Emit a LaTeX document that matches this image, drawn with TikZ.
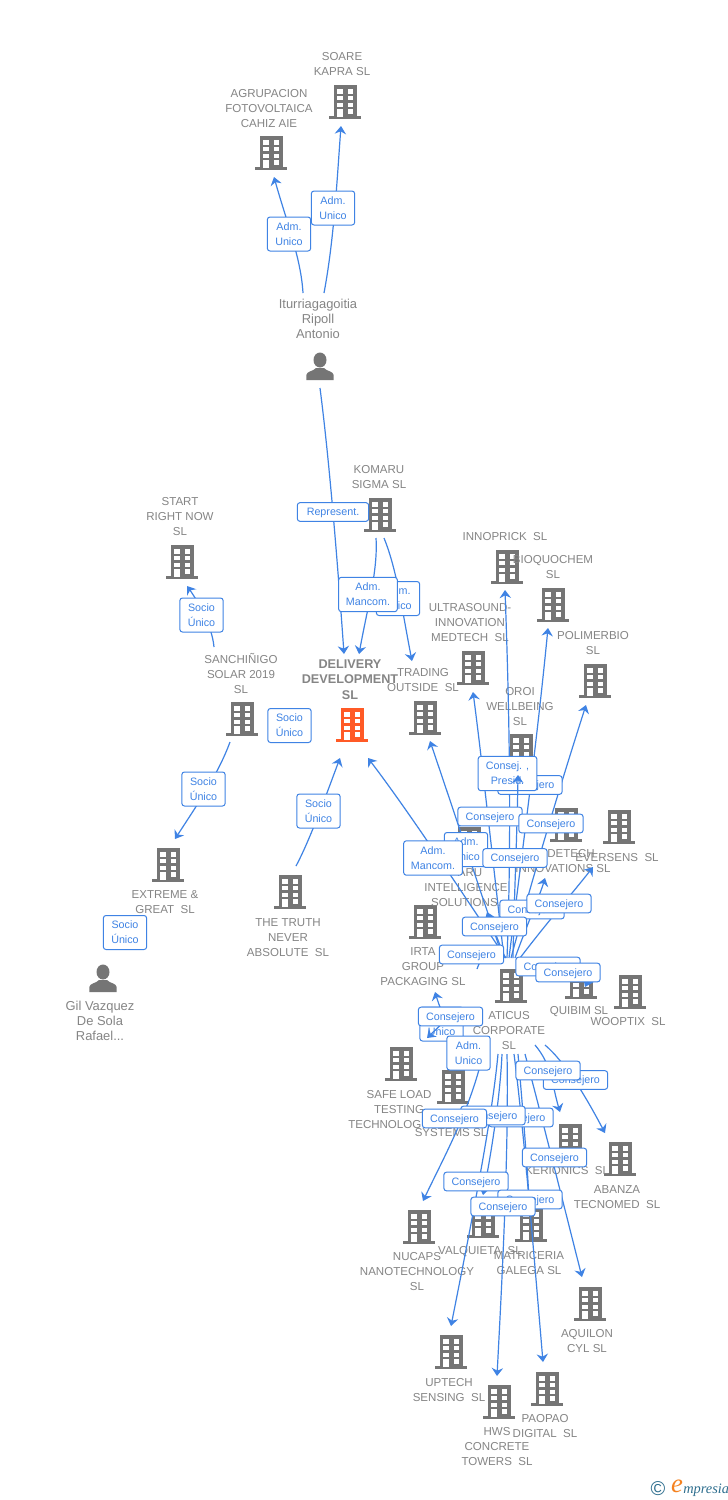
\documentclass[tikz,border=0pt]{standalone}
\usepackage{fontspec}
\setmainfont{Liberation Sans}
\newfontfamily\logoserif{Liberation Serif}
\usetikzlibrary{arrows.meta}
\definecolor{bgray}{HTML}{757575}
\definecolor{borange}{HTML}{FF5A26}
\definecolor{tgray}{HTML}{858585}
\definecolor{cblue}{HTML}{3F83E4}
\definecolor{logoblue}{HTML}{2F6F8F}
\definecolor{logoorange}{HTML}{F58220}
\newcommand\bldgicon[1]{%
  \begin{scope}[shift={(path picture bounding box.center)},x=0.75pt,y=-0.75pt]
    \fill[#1] (-11.5,-17) rectangle (11.5,14.5);
    \fill[#1] (-16,14.2) rectangle (16,17);
    \fill[white] (-7.7,-12.9) rectangle (-2.3,-8.5);
    \fill[white] (2.5,-12.9) rectangle (7.9,-8.5);
    \fill[white] (-7.7,-6.2) rectangle (-2.3,-1.8);
    \fill[white] (2.5,-6.2) rectangle (7.9,-1.8);
    \fill[white] (-7.7,0.5) rectangle (-2.3,4.9);
    \fill[white] (2.5,0.5) rectangle (7.9,4.9);
    \fill[white] (-7.7,7.1) rectangle (-2.3,14.5);
    \fill[white] (2.5,7.1) rectangle (7.9,11.5);
  \end{scope}}
\newcommand\persicon{%
  \begin{scope}[shift={(path picture bounding box.center)},x=0.75pt,y=-0.75pt]
    \fill[bgray] (0,-6) ellipse (6.5 and 7.5);
    \fill[bgray] (-13.7,14) -- (-13.7,9) .. controls (-13,5) and (-7,5.5) .. (-4,2) -- (4,2)
      .. controls (7,5.5) and (13,5) .. (13.7,9) -- (13.7,14) -- cycle;
  \end{scope}}
\tikzset{
  bldg/.style={rectangle,inner sep=0pt,minimum width=24pt,minimum height=25.5pt,path picture={\bldgicon{#1}}},
  bldg/.default=bgray,
  persn/.style={rectangle,inner sep=0pt,minimum width=21pt,minimum height=21pt,path picture={\persicon}},
  txt/.style={inner sep=0pt,align=center,text=tgray,yshift=-0.7pt,font=\fontsize{8.65}{11.25}\selectfont},
  perstxt/.style={txt,font=\fontsize{9.7}{11.25}\selectfont},
  boldtxt/.style={inner sep=0pt,align=center,text=tgray,yshift=-0.7pt,font=\fontsize{9.5}{11.5}\selectfont\bfseries},
  labbase/.style={draw=cblue,line width=0.75pt,fill=white,rounded corners=2pt,inner sep=0pt,align=center,text=cblue,font=\fontsize{8.05}{11.25}\selectfont},
  labone/.style={labbase,minimum width=48.2pt,minimum height=14pt,text height=7pt,text depth=1.7pt},
  labtwo/.style={labbase,minimum width=32.5pt,minimum height=25.5pt},
  labthree/.style={labbase,minimum width=44pt,minimum height=25.8pt},
  conn/.style={draw=cblue,line width=0.9pt,-{Stealth[length=6pt,width=8.5pt,inset=2pt]}},
  connplain/.style={draw=cblue,line width=0.9pt}
}
\begin{document}
\begin{tikzpicture}[x=0.75pt,y=-0.75pt]
\fill[white] (0,0) rectangle (728,1500);
\useasboundingbox (0,0) rectangle (728,1500);
% buildings
\node[bldg] (soare) at (345,102) {};
\node[bldg] (agrup) at (271,153) {};
\node[bldg] (komaru) at (380,515) {};
\node[bldg] (start) at (182,562) {};
\node[bldg=borange] (delivery) at (352,725) {};
\node[bldg] (trading) at (425,718) {};
\node[bldg] (sanch) at (242,719) {};
\node[bldg] (extreme) at (168,865) {};
\node[bldg] (truth) at (290,892) {};
\node[bldg] (innoprick) at (507,567) {};
\node[bldg] (bioq) at (553,605) {};
\node[bldg] (ultra) at (473,668) {};
\node[bldg] (polimer) at (595,681) {};
\node[bldg] (oroi) at (521,751) {};
\node[bldg] (bdetech) at (566,825) {};
\node[bldg] (eversens) at (619,827) {};
\node[bldg] (karu) at (469,844) {};
\node[bldg] (irta) at (425,922) {};
\node[bldg] (aticus) at (511,986) {};
\node[bldg] (quibim) at (581,982) {};
\node[bldg] (wooptix) at (630,992) {};
\node[bldg] (safe) at (401,1064) {};
\node[bldg] (systems) at (453,1087) {};
\node[bldg] (kerionics) at (570,1141) {};
\node[bldg] (abanza) at (620,1159) {};
\node[bldg] (nucaps) at (419,1227) {};
\node[bldg] (valquieta) at (483,1221) {};
\node[bldg] (matriceria) at (531,1225) {};
\node[bldg] (aquilon) at (590,1304) {};
\node[bldg] (uptech) at (451,1352) {};
\node[bldg] (hws) at (499,1402) {};
\node[bldg] (paopao) at (547,1389) {};
\node[persn] (iturr) at (320,366) {};
\node[persn] (gil) at (103,978) {};
% texts
\node[txt] (tsoare) at (342,63.5) {SOARE\\KAPRA SL};
\node[txt] (tagrup) at (269,108) {AGRUPACION\\FOTOVOLTAICA\\CAHIZ AIE};
\node[perstxt] (titurr) at (318,318) {Iturriagagoitia\\Ripoll\\Antonio};
\node[txt] (tkomaru) at (379,476.5) {KOMARU\\SIGMA SL};
\node[txt] (tstart) at (180,516) {START\\RIGHT NOW\\SL};
\node[txt] (tsanch) at (241,673) {SANCHIÑIGO\\SOLAR 2019\\SL};
\node[boldtxt] (tdelivery) at (350,678.5) {DELIVERY\\DEVELOPMENT\\SL};
\node[txt] (ttrading) at (423,679.5) {TRADING\\OUTSIDE~~SL};
\node[txt] (tultra) at (470,622) {ULTRASOUND-\\INNOVATION\\MEDTECH~~SL};
\node[txt] (tinno) at (505,536) {INNOPRICK~~SL};
\node[txt] (tbioq) at (553,566.5) {BIOQUOCHEM\\SL};
\node[txt] (tpolimer) at (593,642.5) {POLIMERBIO\\SL};
\node[txt] (toroi) at (520,706) {OROI\\WELLBEING\\SL};
\node[txt] (tdetech) at (571,853) {DETECH};
\node[txt] (tinnov) at (563,868) {INNOVATIONS SL};
\node[txt] (teversens) at (617,857) {EVERSENS~~SL};
\node[txt] (taru) at (470,872) {ARU};
\node[txt] (tintel) at (466,894.5) {INTELLIGENCE\\SOLUTIONS.};
\node[txt] (tirta) at (423,966) {IRTA\\GROUP\\PACKAGING SL};
\node[txt] (taticus) at (509,1030) {ATICUS\\CORPORATE\\SL};
\node[txt] (tquibim) at (579,1011) {QUIBIM SL};
\node[txt] (twooptix) at (628,1021) {WOOPTIX~~SL};
\node[txt] (tsafe) at (399,1101.5) {SAFE LOAD\\TESTING};
\node[txt,anchor=west] (ttechno) at (348,1124) {TECHNOLOG};
\node[txt] (tsystems) at (451,1132) {SYSTEMS SL};
\node[txt] (tkerionics) at (567,1170) {KERIONICS~~SL};
\node[txt] (tabanza) at (617,1196.5) {ABANZA\\TECNOMED~~SL};
\node[txt] (tnucaps) at (417,1271) {NUCAPS\\NANOTECHNOLOGY\\SL};
\node[txt] (tvalq) at (480,1251) {VALQUIETA~~SL};
\node[txt] (tmatri) at (529,1262.5) {MATRICERIA\\GALEGA SL};
\node[txt] (taquilon) at (587,1340.5) {AQUILON\\CYL SL};
\node[txt] (tuptech) at (449,1389.5) {UPTECH\\SENSING~~SL};
\node[txt] (thws) at (497,1446) {HWS\\CONCRETE\\TOWERS~~SL};
\node[txt] (tpaopao) at (545,1425.5) {PAOPAO\\DIGITAL~~SL};
\node[txt] (ttruth) at (288,937) {THE TRUTH\\NEVER\\ABSOLUTE~~SL};
\node[txt] (textreme) at (165,901.5) {EXTREME \&\\GREAT~~SL};
\node[perstxt] (tgil) at (100,1020) {Gil Vazquez\\De Sola\\Rafael...};
% connectors
\draw[conn] ([shift={(-17,-73)}]iturr.center) .. controls (301,258) and (286,220) .. ([shift={(3,24)}]agrup.center);
\draw[conn] ([shift={(4,-73)}]iturr.center) .. controls (334,240) and (337,180) .. ([shift={(-4,24)}]soare.center);
\draw[conn] ([shift={(0,22)}]iturr.center) .. controls (328,450) and (336,540) .. ([shift={(-8,-71)}]delivery.center);
\draw[conn] ([shift={(-4,23)}]komaru.center) .. controls (378,570) and (368,605) .. ([shift={(7,-71)}]delivery.center);
\draw[conn] ([shift={(4,23)}]komaru.center) .. controls (397,570) and (402,610) .. ([shift={(-13,-57)}]trading.center);
\draw[conn] ([shift={(-28,-72)}]sanch.center) .. controls (212,625) and (197,600) .. ([shift={(5,24)}]start.center);
\draw[conn] ([shift={(-12,23)}]sanch.center) .. controls (218,775) and (195,808) .. ([shift={(7,-26)}]extreme.center);
\draw[conn] ([shift={(6,-26)}]truth.center) .. controls (310,840) and (328,790) .. ([shift={(-12,33)}]delivery.center);
\draw[conn] ([shift={(-5,-28)}]aticus.center) .. controls (470,905) and (415,820) .. ([shift={(16,33)}]delivery.center);
\draw[conn] ([shift={(-8,-28)}]aticus.center) .. controls (480,890) and (450,800) .. ([shift={(5,23)}]trading.center);
\draw[conn] ([shift={(-7,-28)}]aticus.center) .. controls (495,880) and (482,760) .. ([shift={(0,24)}]ultra.center);
\draw[conn] ([shift={(-4,-28)}]aticus.center) .. controls (512,830) and (509,700) .. ([shift={(-2,23)}]innoprick.center);
\draw[conn] ([shift={(-2,-28)}]aticus.center) .. controls (525,830) and (537,740) .. ([shift={(-5,23)}]bioq.center);
\draw[conn] ([shift={(0,-28)}]aticus.center) .. controls (540,850) and (570,755) .. ([shift={(-9,24)}]polimer.center);
\draw[conn] ([shift={(4,-28)}]aticus.center) .. controls (525,930) and (540,895) .. ([shift={(-21,53)}]bdetech.center);
\draw[conn] ([shift={(9,-28)}]aticus.center) .. controls (545,925) and (575,890) .. ([shift={(-26,40)}]eversens.center);
\draw[conn] ([shift={(-6,-28)}]aticus.center) .. controls (500,945) and (492,925) .. ([shift={(18,68)}]karu.center);
\coordinate (stubend) at (477,969);
\draw[connplain] ([shift={(-16,-28)}]aticus.center) .. controls (482,958) and (479,962) .. (stubend);
\draw[conn] ([shift={(-66,34)}]aticus.center) .. controls (441,1010) and (438,1002) .. ([shift={(10,70)}]irta.center);
\draw[conn] ([shift={(13,-28)}]aticus.center) .. controls (545,962) and (592,972) .. ([shift={(4,5)}]quibim.center);
\draw[conn] ([shift={(24,59)}]aticus.center) .. controls (552,1065) and (552,1085) .. ([shift={(-10,-29)}]kerionics.center);
\draw[conn] ([shift={(34,59)}]aticus.center) .. controls (565,1062) and (585,1095) .. ([shift={(-15,-26)}]abanza.center);
\draw[conn] ([shift={(14,68)}]aticus.center) .. controls (540,1110) and (565,1210) .. ([shift={(-8,-27)}]aquilon.center);
\draw[conn] ([shift={(3,68)}]aticus.center) .. controls (524,1130) and (536,1280) .. ([shift={(-4,-27)}]paopao.center);
\draw[conn] ([shift={(7,68)}]aticus.center) .. controls (522,1100) and (527,1160) .. ([shift={(-2,-25)}]matriceria.center);
\draw[conn] ([shift={(-4,68)}]aticus.center) .. controls (509,1150) and (502,1280) .. ([shift={(-2,-26)}]hws.center);
\draw[conn] ([shift={(-9,68)}]aticus.center) .. controls (500,1100) and (490,1160) .. ([shift={(0,-26)}]valquieta.center);
\draw[conn] ([shift={(-13,68)}]aticus.center) .. controls (492,1120) and (470,1230) .. ([shift={(0,-26)}]uptech.center);
\draw[conn] ([shift={(-28,68)}]aticus.center) .. controls (470,1110) and (445,1155) .. ([shift={(4,-26)}]nucaps.center);
% relation labels
\node[labtwo] (l1) at (289,234) {Adm.\\Unico};
\node[labtwo] (l2) at (333,208) {Adm.\\Unico};
\node[labone,minimum width=53.5pt] (l3) at (333,512) {Represent.};
\node[labtwo] (l5) at (398,598.5) {Adm.\\Unico};
\node[labthree] (l4) at (368,594.5) {Adm.\\Mancom.};
\node[labtwo] (l6) at (201.5,615) {Socio\\Único};
\node[labtwo] (l7) at (289.5,725.5) {Socio\\Único};
\node[labtwo] (l8) at (203.5,789) {Socio\\Único};
\node[labtwo] (l9) at (318.5,811) {Socio\\Único};
\node[labtwo] (l10) at (125,932.5) {Socio\\Único};
\node[labone] (c1) at (530,785) {Consejero};
\node[labthree] (c2) at (507.5,773.5) {Consej. ,\\Presid.};
\draw[conn] ([shift={(2,-28)}]aticus.center) .. controls (514,900) and (517,840) .. ([shift={(-3,24)}]oroi.center);
\node[labone] (c3) at (490,816.5) {Consejero};
\node[labone] (c4) at (551,823.5) {Consejero};
\node[labtwo] (c5) at (466,849.5) {Adm.\\Unico};
\node[labone] (c7) at (515,858) {Consejero};
\node[labthree] (c6) at (433,858) {Adm.\\Mancom.};
\node[labone] (c9) at (532,909.5) {Consejero};
\node[labone] (c8) at (559,903.5) {Consejero};
\node[labone] (c10) at (494.5,926.5) {Consejero};
\node[labone] (c11) at (471.5,954.5) {Consejero};
\node[labone] (c12) at (548,966.5) {Consejero};
\node[labone] (c13) at (568,972.5) {Consejero};
\node[labtwo] (c15) at (441.5,1024) {Adm.\\Unico};
\draw[conn] ([shift={(-63,32)}]aticus.center) -- ([shift={(26,-26)}]safe.center);
\node[labone] (c14) at (450.5,1016.5) {Consejero};
\node[labtwo] (c16) at (468.5,1053) {Adm.\\Unico};
\node[labone] (c18) at (575.5,1080) {Consejero};
\node[labone] (c17) at (548,1070.5) {Consejero};
\node[labone] (c21) at (521,1117.5) {Consejero};
\node[labone] (c20) at (493,1115.5) {Consejero};
\node[labone] (c19) at (454.5,1118.5) {Consejero};
\node[labone] (c22) at (554.5,1157.5) {Consejero};
\node[labone] (c23) at (476,1181.5) {Consejero};
\node[labone] (c24) at (530,1199.5) {Consejero};
\node[labone] (c25) at (503,1206.5) {Consejero};
% logo
\node[inner sep=0pt,text=logoblue,font=\fontsize{15}{15}\selectfont] (logoc) at (658,1489) {©};
\node[inner sep=0pt,text=logoorange,font=\logoserif\fontsize{20}{20}\selectfont\itshape] (logoe) at (677,1486) {e};
\node[inner sep=0pt,anchor=west,text=logoblue,font=\logoserif\fontsize{10.8}{10.8}\selectfont\itshape] (logom) at (683,1490) {mpresia};
\end{tikzpicture}
\end{document}
